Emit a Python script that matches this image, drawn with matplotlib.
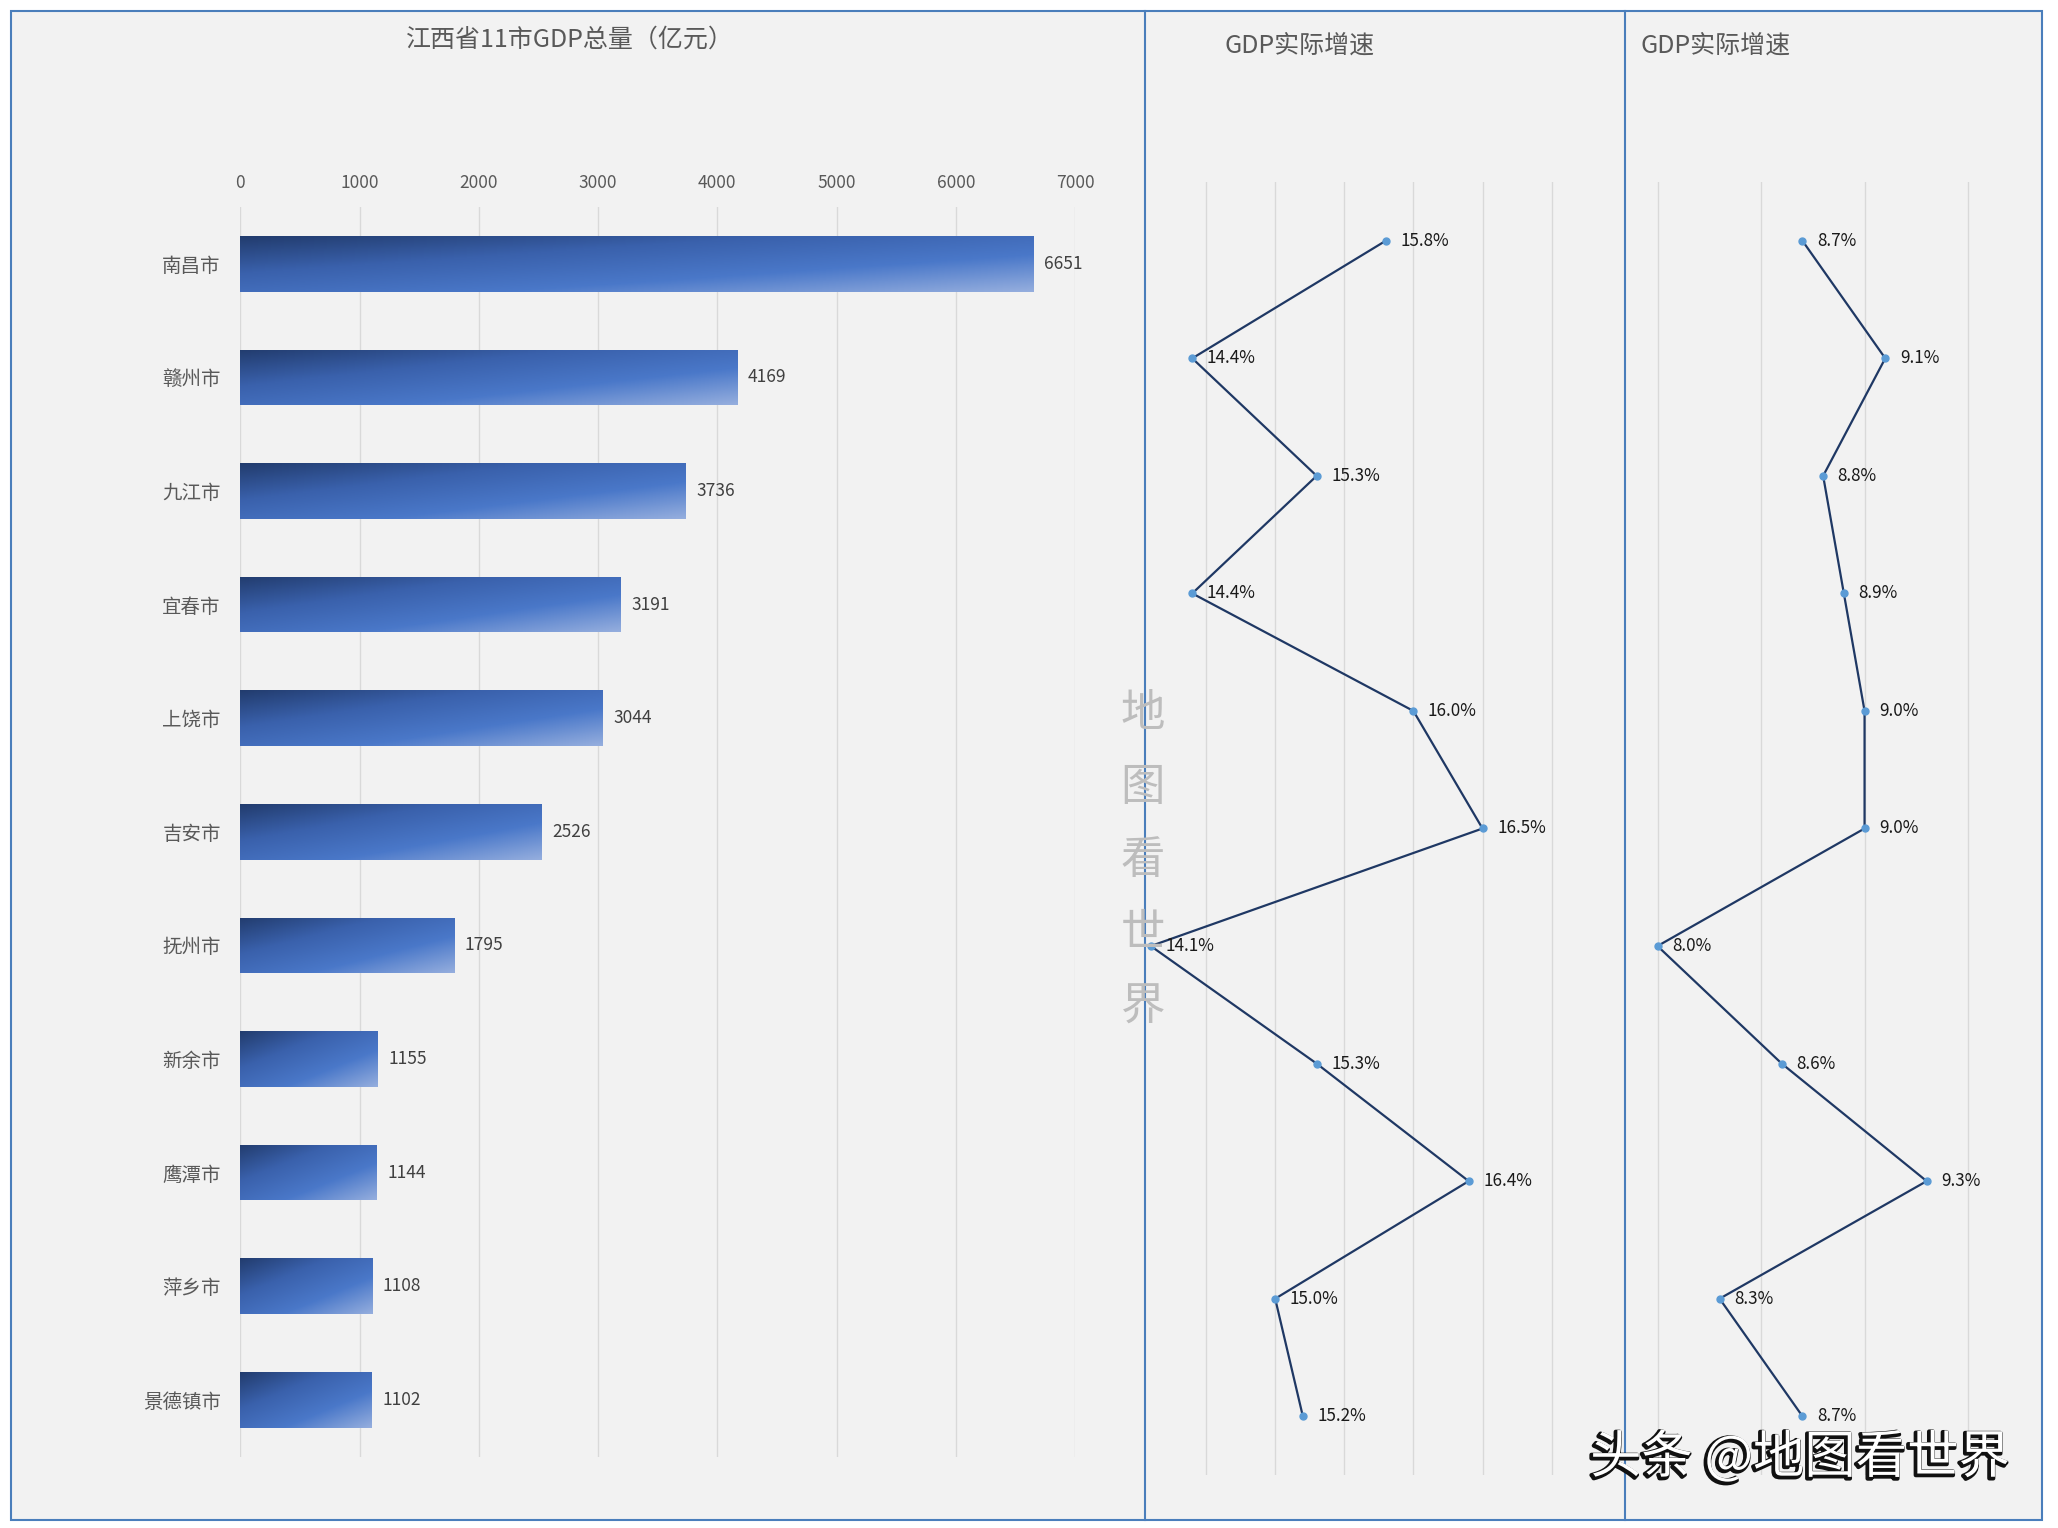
import numpy as np
import matplotlib
matplotlib.use("Agg")
import matplotlib.pyplot as plt
from matplotlib.colors import LinearSegmentedColormap
from matplotlib.patches import Rectangle
from matplotlib.lines import Line2D
import matplotlib.patheffects as pe

plt.rcParams['font.family'] = ['Noto Sans CJK SC', 'DejaVu Sans']

# data
cities = ["南昌市", "赣州市", "九江市", "宜春市", "上饶市", "吉安市",
          "抚州市", "新余市", "鹰潭市", "萍乡市", "景德镇市"]
gdp = [6651, 4169, 3736, 3191, 3044, 2526, 1795, 1155, 1144, 1108, 1102]
growth_a = [15.8, 14.4, 15.3, 14.4, 16.0, 16.5, 14.1, 15.3, 16.4, 15.0, 15.2]
growth_b = [8.7, 9.1, 8.8, 8.9, 9.0, 9.0, 8.0, 8.6, 9.3, 8.3, 8.7]
gdp_ticks = [0, 1000, 2000, 3000, 4000, 5000, 6000, 7000]
grid_a = [14.5, 15.0, 15.5, 16.0, 16.5, 17.0]
grid_b = [8.0, 8.5, 9.0, 9.5]

W, H = 2058, 1528
GRID = '#D9D9D9'
FRAME = '#4A7EBB'
GRAY = '#595959'

fig = plt.figure(figsize=(W / 100, H / 100), dpi=100, facecolor='white')


def box(x0, y0, x1, y1):
    # pixel box (top-left origin) -> figure fraction
    return [x0 / W, 1 - y1 / H, (x1 - x0) / W, (y1 - y0) / H]


# panel background and frame
fig.patches.append(Rectangle((10.5 / W, 1 - 1520 / H), (2042 - 10.5) / W, (1520 - 10.5) / H,
                             transform=fig.transFigure, fc='#F2F2F2', ec=FRAME, lw=1.5, zorder=-1))
for xd in (1145, 1625):
    fig.lines.append(Line2D([xd / W, xd / W], [1 - 10.5 / H, 1 - 1520 / H],
                            transform=fig.transFigure, color=FRAME, lw=1.5, zorder=3))

ypos = np.arange(len(cities))

# ---- bar chart ----
ax = fig.add_axes(box(240.3, 207, 1075, 1456.5))
ax.set_facecolor('none')
bars = ax.barh(ypos, gdp, height=0.49, color='none', edgecolor='none', zorder=2)
cmap = LinearSegmentedColormap.from_list('bar', ['#223C6E', '#3A61AC', '#4A78C9', '#95AEDE'])
u = np.linspace(0, 1, 256)
v = np.linspace(0, 1, 64)
grad = 0.5 * u[None, :] + 0.5 * v[:, None]
for b in bars:
    x0 = b.get_x()
    x1 = x0 + b.get_width()
    yt = b.get_y()
    yb = yt + b.get_height()
    im = ax.imshow(grad, cmap=cmap, vmin=0, vmax=1, extent=(x0, x1, yb, yt),
                   origin='upper', aspect='auto', zorder=2)
    im.set_clip_path(b)
for i, val in enumerate(gdp):
    ax.annotate(f"{val}", (val, i), xytext=(7.5, 0), textcoords='offset points',
                ha='left', va='center', fontsize=12.5, color='#404040')
ax.set_xlim(0, 7000)
ax.set_ylim(10.5, -0.5)
ax.set_xticks(gdp_ticks)
ax.set_yticks(ypos)
ax.set_yticklabels(cities)
ax.xaxis.tick_top()
ax.tick_params(axis='x', length=0, pad=11, labelsize=12.5, labelcolor=GRAY)
ax.tick_params(axis='y', length=0, pad=14, labelsize=14, labelcolor=GRAY)
ax.xaxis.grid(True, color=GRID, lw=1)
ax.set_axisbelow(True)
for s in ax.spines.values():
    s.set_visible(False)


# ---- growth line charts ----
def growth_panel(rect, values, xlim, grid_vals):
    a = fig.add_axes(rect)
    a.set_facecolor('none')
    a.set_xlim(*xlim)
    a.set_ylim(10.5, -0.5)
    a.set_xticks(grid_vals)
    a.set_yticks([])
    a.tick_params(axis='x', length=0, labelbottom=False)
    a.xaxis.grid(True, color=GRID, lw=1)
    a.set_axisbelow(True)
    for s in a.spines.values():
        s.set_visible(False)
    a.plot(values, ypos, color='#1F3864', lw=1.6, marker='o', ms=5,
           mfc='#5B9BD5', mec='#5B9BD5', zorder=3)
    for i, val in enumerate(values):
        a.annotate(f"{val:.1f}%", (val, i), xytext=(10.5, 0), textcoords='offset points',
                   ha='left', va='center', fontsize=12.3, color='#1A1A1A')
    return a


growth_panel(box(1145, 182, 1625, 1475), growth_a, (14.058, 17.531), grid_a)
growth_panel(box(1625, 182, 2042, 1475), growth_b, (7.843, 9.857), grid_b)

# titles
fig.text(570 / W, 1 - 40 / H, "江西省11市GDP总量（亿元）", ha='center', va='center',
         fontsize=18, color=GRAY)
fig.text(1224 / W, 1 - 46 / H, "GDP实际增速", ha='left', va='center', fontsize=18, color=GRAY)
fig.text(1641 / W, 1 - 46 / H, "GDP实际增速", ha='left', va='center', fontsize=18, color=GRAY)

# watermarks
fig.text(1143 / W, 1 - 860 / H, "地\n图\n看\n世\n界", ha='center', va='center',
         fontsize=32, color='#BDBDBD', linespacing=1.76, zorder=5)
fig.text(1800 / W, 1 - 1458 / H, "头条 @地图看世界", ha='center', va='center',
         fontsize=37, color='white', zorder=6,
         path_effects=[pe.Stroke(linewidth=3, foreground='#111111', offset=(-1.2, -1.2)),
                       pe.Normal()])

fig.savefig("out.png", dpi=100, facecolor='white')
